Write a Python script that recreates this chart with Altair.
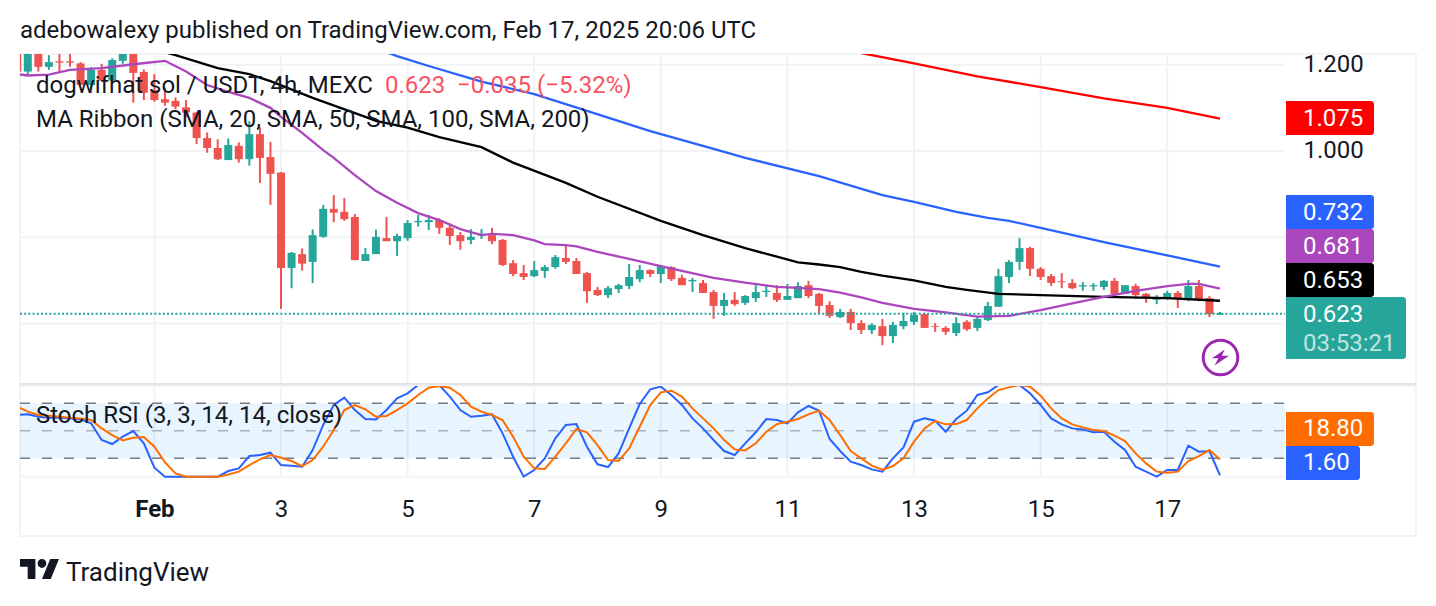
import altair as alt
import pandas as pd

# ---- candles (4h, first one Jan 29 20:00 UTC) ----
opens = [1.250,1.184,1.240,1.195,1.208,1.208,1.203,1.153,1.188,1.163,
 1.209,1.228,1.183,1.141,1.120,1.116,1.101,1.089,1.030,1.007,
 .979,1.012,.981,1.039,.986,.950,.729,.761,.743,.801,
 .866,.859,.847,.745,.761,.798,.791,.798,.835,.835,
 .840,.822,.805,.794,.805,.805,.794,.740,.717,.710,
 .722,.731,.752,.745,.717,.678,.666,.680,.687,.703,
 .724,.715,.731,.706,.698,.694,.673,.641,.655,.648,
 .659,.673,.671,.655,.659,.689,.669,.643,.615,.627,
 .601,.585,.594,.571,.594,.604,.622,.594,.590,.578,
 .604,.590,.608,.639,.708,.743,.775,.727,.710,.698,
 .694,.686,.686,.685,.699,.669,.687,.669,.655,.657,
 .671,.655,.687,.659,.621]
closes = [1.184,1.240,1.195,1.206,1.205,1.205,1.153,1.188,1.163,1.211,
 1.228,1.181,1.135,1.118,1.112,1.103,1.089,1.030,1.007,.981,
 1.014,.981,1.039,.984,.947,.729,.764,.739,.805,.866,
 .857,.842,.747,.761,.801,.791,.803,.833,.838,.840,
 .822,.803,.791,.801,.808,.791,.736,.715,.708,.724,
 .731,.754,.743,.715,.675,.666,.682,.689,.708,.724,
 .715,.733,.703,.689,.701,.671,.641,.655,.645,.664,
 .673,.676,.655,.664,.687,.664,.641,.618,.627,.601,
 .585,.597,.571,.597,.606,.620,.590,.592,.581,.601,
 .587,.611,.641,.710,.743,.775,.727,.708,.694,.696,
 .682,.689,.689,.699,.669,.689,.666,.659,.658,.671,
 .657,.687,.655,.622,.623]
highs = [1.260,1.250,1.250,1.222,1.228,1.228,1.206,1.194,1.202,1.215,
 1.240,1.240,1.189,1.178,1.147,1.124,1.118,1.091,1.043,1.027,
 1.029,1.020,1.069,1.055,1.021,.951,.766,.774,.818,.875,
 .898,.891,.854,.775,.818,.847,.808,.840,.852,.852,
 .844,.832,.812,.819,.819,.822,.796,.747,.736,.745,
 .736,.759,.784,.752,.720,.685,.687,.692,.738,.736,
 .726,.736,.733,.713,.706,.701,.678,.671,.673,.666,
 .689,.687,.689,.692,.696,.699,.671,.652,.634,.634,
 .608,.601,.611,.604,.625,.627,.625,.601,.594,.615,
 .608,.615,.650,.727,.747,.798,.778,.731,.715,.717,
 .703,.696,.694,.701,.706,.689,.692,.671,.666,.676,
 .676,.701,.701,.664,.627]
lows = [1.180,1.176,1.184,1.188,1.185,1.195,1.153,1.134,1.163,1.161,
 1.202,1.112,1.118,1.114,1.105,1.097,1.078,1.016,.996,.979,
 .979,.973,.966,.926,.875,.634,.682,.723,.694,.799,
 .835,.838,.747,.745,.761,.791,.757,.792,.825,.817,
 .808,.782,.771,.784,.796,.784,.733,.710,.701,.708,
 .706,.727,.738,.715,.648,.664,.659,.671,.680,.696,
 .708,.694,.699,.689,.673,.671,.611,.618,.641,.643,
 .650,.662,.650,.655,.659,.659,.622,.613,.613,.585,
 .576,.576,.550,.555,.587,.597,.590,.581,.574,.571,
 .583,.583,.606,.639,.694,.724,.710,.701,.687,.682,
 .680,.676,.676,.678,.669,.669,.657,.648,.645,.655,
 .636,.652,.652,.615,.620]

# ---- moving averages: candle number, value ----
sma20_at = [0,1,3,5,8,11,14,16,18,20,22,24,25,27,29,30,32,34,36,38,40,42,44,45,47,49,50,52,53,55,58,61,63,66,69,72,74,76,78,80,82,85,88,91,94,97,100,103,106,109,111,112,114]
sma20 = [1.178,1.175,1.177,1.188,1.192,1.201,1.209,1.184,1.153,1.137,1.123,1.100,1.079,1.042,1.002,.984,.944,.907,.880,.856,.840,.819,.805,.808,.805,.793,.784,.782,.779,.766,.750,.733,.722,.706,.695,.685,.683,.680,.672,.661,.648,.634,.626,.616,.618,.631,.647,.662,.676,.687,.692,.692,.681]
sma50_at = [14,15,19,22,24,28,33,34,37,40,44,47,52,55,61,65,69,72,74,76,78,80,82,85,88,90,93,97,103,109,114]
sma50 = [1.229,1.222,1.192,1.178,1.162,1.123,1.079,1.070,1.054,1.032,1.009,.973,.926,.894,.838,.805,.775,.755,.742,.737,.731,.720,.711,.700,.685,.678,.669,.666,.662,.659,.653]
sma100_at = [35,36,39,44,49,54,60,66,69,76,82,85,89,92,94,97,103,109,114]
sma100 = [1.229,1.220,1.197,1.161,1.132,1.093,1.046,1.005,.984,.942,.898,.882,.859,.845,.838,.822,.789,.758,.732]
sma200_at = [80,85,91,97,103,109,114]
sma200 = [1.227,1.203,1.173,1.148,1.122,1.100,1.075]

# ---- stochastic RSI, one value per candle ----
stoch_k = [67.3,68.0,65.4,64.4,64.4,63.6,62.5,58.2,40.0,35.6,43.6,49.8,36.4,9.8,0,0,0,0,0,0,
 6.2,9.1,22.5,23.6,26.2,12.7,12.0,10.9,29.1,56.4,78.2,86.2,72.7,62.9,62.5,72.7,85.4,90.9,100,100,
 100,87.3,72.7,65.4,66.5,68.0,47.3,21.8,0,7.3,20.0,41.8,56.4,57.4,32.7,13.5,10.5,25.4,52.7,79.3,
 95.3,98.2,89.1,78.2,63.6,52.7,40.0,28.0,23.6,36.4,48.4,62.9,61.8,58.2,70.2,77.1,72.0,41.1,28.0,16.4,
 12.7,8.0,5.5,20.0,32.0,60.0,63.6,61.1,49.1,62.9,72.0,89.1,92.0,100,100,100,90.9,78.2,63.6,57.1,
 52.7,51.6,48.4,49.1,38.2,29.1,10.9,5.5,0,7.3,7.3,33.8,27.3,28.0,1.6]
stoch_d = [76.4,70.9,67.3,66.5,65.4,64.4,63.6,61.8,52.7,45.4,39.6,42.5,43.3,32.7,15.6,3.6,0,0,0,0,
 2.5,5.5,12.7,18.9,23.6,20.7,17.1,11.6,18.2,32.7,50.9,72.7,78.2,73.4,65.4,66.2,72.7,80.0,89.1,97.1,
 98.9,97.1,89.1,76.4,70.9,67.3,61.8,43.6,21.8,9.1,8.4,21.8,36.4,52.0,48.4,34.5,18.2,17.1,30.9,54.5,
 78.2,92.0,93.8,87.3,74.5,63.6,52.7,40.0,29.8,28.7,36.4,49.1,57.4,60.0,62.9,68.0,72.0,61.8,45.4,28.0,
 20.0,12.0,7.6,11.6,20.0,38.2,52.7,60.7,57.1,57.4,61.8,74.5,85.4,94.5,97.4,100,98.2,88.4,74.5,63.6,
 57.1,53.8,50.9,49.8,44.7,38.9,25.4,14.5,5.5,4.4,5.5,17.1,22.5,29.1,18.8]

price_grid = [1.2, 1.0, 0.8, 0.6]
price_labels = [1.2, 1.0]
last_price = 0.623
stoch_levels = [80, 50, 20]
day_ticks = ["2025-02-01", "2025-02-03", "2025-02-05", "2025-02-07", "2025-02-09",
             "2025-02-11", "2025-02-13", "2025-02-15", "2025-02-17"]

TITLE = "adebowalexy published on TradingView.com, Feb 17, 2025 20:06 UTC"
LEGEND_1 = "dogwifhat sol / USDT, 4h, MEXC"
LEGEND_1B = "0.623"
LEGEND_1C = "\u22120.035 (\u22125.32%)"
LEGEND_2 = "MA Ribbon (SMA, 20, SMA, 50, SMA, 100, SMA, 200)"
LEGEND_3 = "Stoch RSI (3, 3, 14, 14, close)"

UP, DOWN = "#26a69a", "#ef5350"
INK = "#131722"
GRID = "#f2f3f5"
FONT = "Roboto"
FS = 24

def ms(s):
    return int(pd.Timestamp(s, tz="UTC").value // 10**6)

H4 = 4 * 3600 * 1000
T0 = ms("2025-01-29 20:00")
def at(i):
    return T0 + i * H4

W, H1, H2 = 1396, 330, 150
S_TOP = 98.91
x_scale = alt.Scale(type="utc", domain=[at(0.2607), at(132.58)], padding=0)
y_scale = alt.Scale(domain=[0.46002, 1.22479], padding=0, nice=False, zero=False)
s_scale = alt.Scale(domain=[-64.67, S_TOP], padding=0, nice=False, zero=False)
X0, X1 = at(0.2607), at(120.17)   # drawing area ends where the price scale begins

price_axis = alt.Axis(orient="right", offset=-131, values=price_labels, format=".3f", title=None,
                      domain=False, ticks=False, grid=False, labelPadding=18, labelFont=FONT,
                      labelFontSize=FS, labelColor=INK, labelAlign="left", labelBaseline="middle")

time_axis = alt.Axis(orient="bottom", offset=-59, values=[ms(d) for d in day_ticks], title=None,
                     domain=False, ticks=False, grid=False, labelPadding=32, labelFont=FONT,
                     labelFontSize=FS, labelColor=INK, labelBaseline="middle", labelFlush=False,
                     labelOverlap=False, labelAlign="center",
                     labelFontWeight={"expr": "utcdate(datum.value) == 1 ? 'bold' : 'normal'"},
                     labelExpr="utcdate(datum.value) == 1 ? utcFormat(datum.value, '%b') : utcFormat(datum.value, '%-d')")

def X(f):
    return alt.X(f, type="temporal", scale=x_scale, axis=None)

def XB(f):
    return alt.X(f, type="temporal", scale=x_scale, axis=time_axis)

def Y(f):
    return alt.Y(f, type="quantitative", scale=y_scale, axis=price_axis)

def S(f):
    return alt.Y(f, type="quantitative", scale=s_scale, axis=None)

candles = pd.DataFrame({
    "t": [at(i) for i in range(len(opens))],
    "o": opens, "h": highs, "l": lows, "c": closes,
})
candles["col"] = [UP if c >= o else DOWN for o, c in zip(opens, closes)]

def ma_layer(at_list, vals, colour):
    d = pd.DataFrame({"t": [at(i) for i in at_list], "v": vals})
    return alt.Chart(d).mark_line(color=colour, strokeWidth=2.3, clip=True).encode(x=X("t"), y=Y("v"))

def stoch_layer(vals, colour):
    d = pd.DataFrame({"t": [at(i) for i in range(len(vals))], "v": vals})
    return alt.Chart(d).mark_line(color=colour, strokeWidth=2, clip=True).encode(x=XB("t"), y=S("v"))

def label(text, x, y, colour=INK, size=FS, weight="normal", opacity=1.0):
    return alt.Chart(pd.DataFrame({"a": [text]})).mark_text(
        align="left", baseline="middle", font=FONT, fontSize=size, fontWeight=weight,
        color=colour, opacity=opacity, clip=False
    ).encode(x=alt.value(x), y=alt.value(y), text="a:N")

def tag(top, bottom, right, colour):
    return alt.Chart(pd.DataFrame({"a": [1]})).mark_rect(
        color=colour, cornerRadiusTopRight=3, cornerRadiusBottomRight=3, clip=False
    ).encode(x=alt.value(1266), x2=alt.value(right), y=alt.value(top), y2=alt.value(bottom), detail="a:N")

# ---------- price pane ----------
hgrid = pd.DataFrame({"v": price_grid, "a": X0, "b": X1})
vgrid = pd.DataFrame({"t": [ms(d) for d in day_ticks]})

top_layers = [
    alt.Chart(vgrid).mark_rule(color=GRID, strokeWidth=2).encode(x=X("t")),
    alt.Chart(hgrid).mark_rule(color=GRID, strokeWidth=2).encode(y=Y("v"), x=X("a"), x2="b:T"),
    alt.Chart(candles).mark_rule(strokeWidth=2, clip=True).encode(
        x=X("t"), y=Y("l"), y2="h:Q", color=alt.Color("col:N", scale=None)),
    alt.Chart(candles).mark_bar(size=8, clip=True).encode(
        x=X("t"), y=Y("o"), y2="c:Q", color=alt.Color("col:N", scale=None)),
    ma_layer(sma200_at, sma200, "#ff0000"),
    ma_layer(sma100_at, sma100, "#2962ff"),
    ma_layer(sma50_at, sma50, "#000000"),
    ma_layer(sma20_at, sma20, "#ab47bc"),
    alt.Chart(pd.DataFrame({"v": [last_price], "a": X0, "b": X1})).mark_rule(
        color=UP, strokeWidth=2, strokeDash=[2, 2.2]).encode(y=Y("v"), x=X("a"), x2="b:T"),
    alt.Chart(pd.DataFrame({"a": [1]})).mark_rule(color="#e0e3eb", strokeWidth=2).encode(
        x=alt.value(0), x2=alt.value(W), y=alt.value(H1), detail="a:N"),
    tag(47, 81, 1354, "#ff0000"),
    tag(141, 175, 1354, "#2962ff"),
    tag(175, 209, 1354, "#ab47bc"),
    tag(209, 243, 1354, "#000000"),
    tag(243, 305, 1386, UP),
    label("1.075", 1283, 64.5, "#ffffff"),
    label("0.732", 1283, 158.5, "#ffffff"),
    label("0.681", 1283, 192.5, "#ffffff"),
    label("0.653", 1283, 226.5, "#ffffff"),
    label("0.623", 1283, 260.5, "#ffffff"),
    label("03:53:21", 1283, 289.5, "#ffffff", opacity=0.7),
    label(TITLE, 0, -23),
    label(LEGEND_1, 16, 32),
    label(LEGEND_1B, 365, 32, "#f7525f"),
    label(LEGEND_1C, 437, 32, "#f7525f"),
    label(LEGEND_2, 16, 65.5),
    alt.Chart(pd.DataFrame({"a": [1]})).mark_point(
        shape="circle", size=1195, stroke="#9c27b0", strokeWidth=3, fill="#ffffff", fillOpacity=1, opacity=1
    ).encode(x=alt.value(1200.5), y=alt.value(303.5), detail="a:N"),
    alt.Chart(pd.DataFrame({"a": [1]})).mark_point(
        shape="M.5 -.95L-1 .08L-.25 .08L-.7 .95L1 -.2L.15 -.2Z",
        size=290, filled=True, fill="#9c27b0", strokeWidth=0, opacity=1
    ).encode(x=alt.value(1200.5), y=alt.value(303.5), detail="a:N"),
]
top = alt.layer(*top_layers).properties(width=W, height=H1)

# ---------- stochastic pane ----------
band = pd.DataFrame({"a": [X0], "b": [X1], "lo": [20], "hi": [80]})
levels = pd.DataFrame({"v": stoch_levels, "a": X0, "b": X1,
                       "o": [1.0, 0.55, 1.0]})
base_grid = pd.DataFrame({"v": [0], "a": X0, "b": X1})
vgrid2 = vgrid.assign(lo=0, hi=S_TOP)

bottom_layers = [
    alt.Chart(vgrid2).mark_rule(color=GRID, strokeWidth=2).encode(
        x=XB("t"), y=S("lo"), y2="hi:Q"),
    alt.Chart(base_grid).mark_rule(color=GRID, strokeWidth=2).encode(
        y=S("v"), x=XB("a"), x2="b:T"),
    alt.Chart(band).mark_rect(color="#2196f3", opacity=0.1).encode(
        x=XB("a"), x2="b:T", y=S("lo"), y2="hi:Q"),
    alt.Chart(levels).mark_rule(color="#787b86", strokeWidth=1.5, strokeDash=[10, 12]).encode(
        y=S("v"), x=XB("a"), x2="b:T", opacity=alt.Opacity("o:Q", scale=None)),
    stoch_layer(stoch_k, "#2962ff"),
    stoch_layer(stoch_d, "#ff6d00"),
    tag(26, 60, 1354, "#ff6d00"),
    tag(60, 94, 1340, "#2962ff"),
    label("18.80", 1283, 43, "#ffffff"),
    label("1.60", 1283, 77, "#ffffff"),
    label(LEGEND_3, 16, 30),
    label("TradingView", 46, 186.5, size=26),
    alt.Chart(pd.DataFrame({"a": [1]})).mark_point(
        shape="M-.211 .507H-.606V-.113H-1V-.507H-.211ZM.577 .507H.127L.549 -.507H1ZM-.098 -.282A.225 .225 0 1 0 .352 -.282A.225 .225 0 1 0 -.098 -.282Z",
        size=1521, filled=True, fill=INK, strokeWidth=0, opacity=1
    ).encode(x=alt.value(19.5), y=alt.value(183), detail="a:N"),
]
bottom = alt.layer(*bottom_layers).properties(width=W, height=H2)

chart = alt.vconcat(top, bottom, spacing=-4).configure_view(
    stroke=GRID, strokeWidth=2
).properties(
    background="#ffffff",
    padding={"left": 10, "top": 10, "right": 0, "bottom": 0},
)

chart.save("out.html", embed_options={"renderer": "svg", "actions": False})
